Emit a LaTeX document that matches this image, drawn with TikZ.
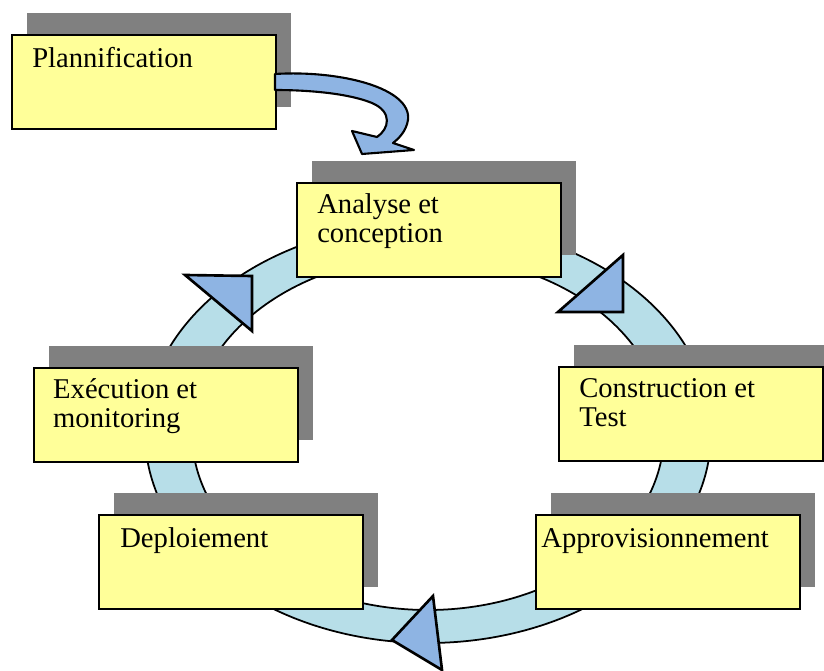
\documentclass[tikz,border=0pt]{standalone}
\usepackage{fontspec}
\setmainfont{Liberation Serif}
\usetikzlibrary{shadows}

\definecolor{boxyellow}{HTML}{FFFF99}
\definecolor{shadowgray}{HTML}{808080}
\definecolor{ringblue}{HTML}{B7DEE8}
\definecolor{arrowblue}{HTML}{8EB4E3}

\begin{document}
\begin{tikzpicture}[x=0.02cm,y=-0.02cm,
phase/.style={rectangle,draw=black,line width=1.4pt,fill=boxyellow,anchor=north west,inner sep=0pt,
  minimum width=5.28cm,minimum height=1.88cm,
  general shadow={fill=shadowgray,shadow xshift=8.5pt,shadow yshift=12.5pt}},
phasetext/.style={anchor=base west,inner sep=0pt,align=left,font=\fontsize{16.3}{16.9}\selectfont},
ring/.style={draw=black,line width=1pt},
turn/.style={draw=black,line width=1.5pt,fill=arrowblue,line join=miter}]

\clip (0,0) rectangle (824,671);

% cycle ring
\fill[ringblue,even odd rule] (428,433) ellipse [x radius=283,y radius=210]
  (428,433) ellipse [x radius=236,y radius=177];
\draw[ring] (428,433) ellipse [x radius=283,y radius=210];
\draw[ring] (428,433) ellipse [x radius=236,y radius=177];

% direction marks on the ring
\filldraw[turn] (185,275) -- (252,276) -- (252,331) -- cycle;
\filldraw[turn] (558,312) -- (623,255) -- (623,312) -- cycle;
\filldraw[turn] (392,640) -- (433,596) -- (442,670) -- cycle;

% phases (base anchor sits on the last line)
\node (plan) [phase] at (11,34) {};
\node (plan-t) [phasetext] at ([xshift=11.9pt,yshift=-19.2pt]plan.north west) {Plannification};

\node (anal) [phase] at (296,182) {};
\node (anal-t) [phasetext] at ([xshift=11.9pt,yshift=-34.6pt]anal.north west) {Analyse et\\conception};

\node (cons) [phase] at (558,366) {};
\node (cons-t) [phasetext] at ([xshift=11.9pt,yshift=-34.6pt]cons.north west) {Construction et\\Test};

\node (exec) [phase] at (33,367) {};
\node (exec-t) [phasetext] at ([xshift=11.3pt,yshift=-34.6pt]exec.north west) {Exécution et\\monitoring};

\node (depl) [phase] at (98,514) {};
\node (depl-t) [phasetext] at ([xshift=12.5pt,yshift=-19.2pt]depl.north west) {Deploiement};

\node (appr) [phase] at (535,514) {};
\node (appr-t) [phasetext] at ([xshift=3.4pt,yshift=-19.2pt]appr.north west) {Approvisionnement};

% bent arrow into the cycle
\filldraw[turn,line width=1.2pt,line join=round]
  (275,74) .. controls (340,70) and (412,88) .. (408,120)
  .. controls (406,132) and (398,139) .. (393,143)
  -- (414,150) -- (362,154) -- (352,131) -- (377,137)
  .. controls (389,129) and (393,112) .. (372,103)
  .. controls (345,92) and (300,90) .. (275,90) -- cycle;

\end{tikzpicture}
\end{document}
